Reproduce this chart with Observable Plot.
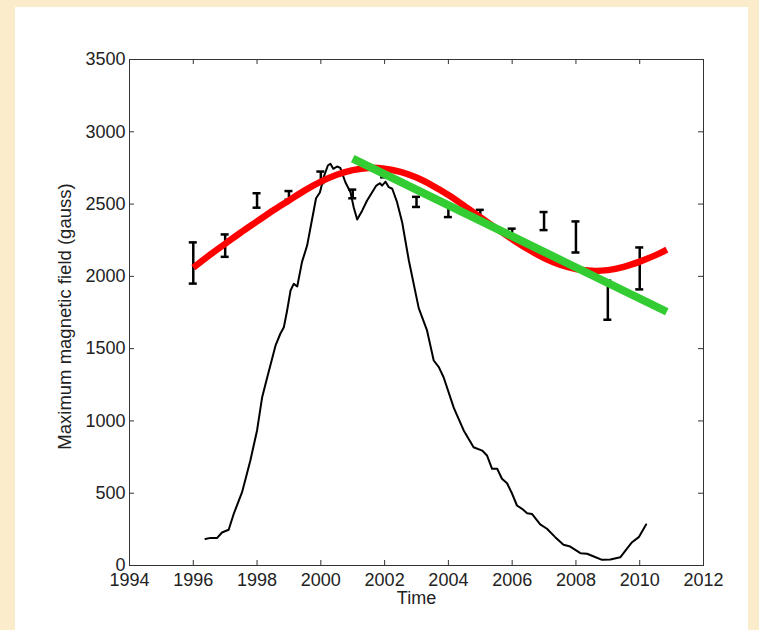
<!DOCTYPE html>
<html><head><meta charset="utf-8">
<script src="https://cdn.jsdelivr.net/npm/d3@7"></script>
<script src="https://cdn.jsdelivr.net/npm/@observablehq/plot@0.6"></script>
<style>
html,body{margin:0;padding:0;}
body{width:759px;height:630px;background:#fbeccb;position:relative;overflow:hidden;}
#panel{position:absolute;left:15px;top:7px;width:733px;height:623px;background:#fff;}
#chart{position:absolute;left:0;top:0;}
</style></head><body><div id="panel"></div><div id="chart"></div>
<script>
// ---- data ----
const xTicks = [1994, 1996, 1998, 2000, 2002, 2004, 2006, 2008, 2010, 2012];
const yTicks = [0, 500, 1000, 1500, 2000, 2500, 3000, 3500];
const xLabel = "Time";
const yLabel = "Maximum magnetic field (gauss)";

// error bars (yearly)
const barYears = [1996, 1997, 1998, 1999, 2000, 2001, 2002, 2003, 2004, 2005, 2006, 2007, 2008, 2009, 2010];
const barLow  = [1950, 2135, 2475, 2530, 2645, 2540, 2685, 2480, 2410, 2385, 2275, 2320, 2165, 1700, 1910];
const barHigh = [2235, 2290, 2575, 2590, 2725, 2600, 2720, 2550, 2490, 2460, 2330, 2445, 2380, 1970, 2200];

// red fitted curve
const redT = [1996, 1996.5, 1997, 1997.5, 1998, 1998.5, 1999, 1999.5, 2000, 2000.5, 2001, 2001.5, 2002, 2002.5, 2003, 2003.5, 2004, 2004.5, 2005, 2005.5, 2006, 2006.5, 2007, 2007.5, 2008, 2008.5, 2009, 2009.5, 2010, 2010.5, 2010.85];
const redV = [2060, 2145, 2225, 2305, 2380, 2455, 2525, 2595, 2655, 2703, 2735, 2750, 2745, 2722, 2683, 2628, 2563, 2488, 2410, 2332, 2257, 2187, 2127, 2081, 2051, 2038, 2043, 2066, 2102, 2147, 2185];

// green linear trend
const greenT = [2001, 2010.85];
const greenV = [2815, 1755];

// black curve (sunspot-like)
const blackT = [1996.38, 1996.54, 1996.75, 1996.9, 1997.11, 1997.27, 1997.53, 1997.79, 1998.0, 1998.16, 1998.32, 1998.58, 1998.73, 1998.84, 1998.94, 1999.05, 1999.15, 1999.26, 1999.41, 1999.57, 1999.73, 1999.85, 1999.97, 2000.09, 2000.22, 2000.3, 2000.39, 2000.51, 2000.61, 2000.77, 2000.93, 2001.03, 2001.14, 2001.3, 2001.45, 2001.61, 2001.74, 2001.85, 2001.92, 2002.03, 2002.13, 2002.24, 2002.39, 2002.55, 2002.65, 2002.76, 2003.07, 2003.33, 2003.54, 2003.7, 2003.85, 2004.17, 2004.48, 2004.79, 2005.06, 2005.21, 2005.37, 2005.53, 2005.68, 2005.84, 2006.0, 2006.15, 2006.31, 2006.47, 2006.62, 2006.88, 2007.09, 2007.35, 2007.61, 2007.82, 2008.14, 2008.35, 2008.56, 2008.82, 2009.08, 2009.39, 2009.6, 2009.76, 2009.97, 2010.2];
const blackV = [184, 191, 191, 228, 247, 358, 507, 726, 934, 1164, 1302, 1522, 1603, 1648, 1760, 1902, 1948, 1930, 2100, 2213, 2400, 2540, 2580, 2686, 2767, 2779, 2744, 2760, 2750, 2651, 2582, 2478, 2393, 2456, 2525, 2582, 2628, 2644, 2628, 2655, 2617, 2606, 2513, 2375, 2248, 2110, 1780, 1626, 1418, 1372, 1302, 1090, 934, 818, 795, 761, 669, 669, 600, 569, 496, 415, 392, 362, 357, 284, 254, 196, 143, 131, 85, 81, 62, 39, 42, 57, 116, 161, 196, 284];

// ---- build ----
const W = 759, H = 630, mL = 129, mR = 56, mT = 59, mB = 65;
const innerW = W - mL - mR, innerH = H - mT - mB;
const bars = barYears.map((t, i) => ({t, lo: barLow[i], hi: barHigh[i]}));
const red = redT.map((t, i) => ({t, v: redV[i]}));
const green = greenT.map((t, i) => ({t, v: greenV[i]}));
const black = blackT.map((t, i) => ({t, v: blackV[i]}));
const axisColor = "#333";

const chart = Plot.plot({
  width: W, height: H,
  marginLeft: mL, marginRight: mR, marginTop: mT, marginBottom: mB,
  style: {background: "transparent", fontFamily: "'Liberation Sans', Arial, Helvetica, sans-serif", fontSize: "18px", color: "#222", overflow: "visible"},
  x: {domain: [1994, 2012]},
  y: {domain: [0, 3500]},
  marks: [
    Plot.frame({stroke: axisColor, strokeWidth: 1}),
    Plot.ruleX(xTicks, {insetTop: innerH - 5, stroke: axisColor}),
    Plot.ruleX(xTicks, {insetBottom: innerH - 5, stroke: axisColor}),
    Plot.ruleY(yTicks, {insetRight: innerW - 5, stroke: axisColor}),
    Plot.ruleY(yTicks, {insetLeft: innerW - 5, stroke: axisColor}),
    Plot.axisX(xTicks, {tickSize: 0, tickPadding: 8, tickFormat: d3.format("d"), label: null}),
    Plot.axisY(yTicks, {tickSize: 0, tickPadding: 4, tickFormat: d3.format("d"), label: null}),
    Plot.line(black, {x: "t", y: "v", stroke: "#000", strokeWidth: 2}),
    Plot.ruleX(bars, {x: "t", y1: "lo", y2: "hi", stroke: "#000", strokeWidth: 2.5}),
    Plot.ruleY(bars, {y: "lo", x1: "t", x2: "t", insetLeft: -4, insetRight: -4, stroke: "#000", strokeWidth: 2.5}),
    Plot.ruleY(bars, {y: "hi", x1: "t", x2: "t", insetLeft: -4, insetRight: -4, stroke: "#000", strokeWidth: 2.5}),
    Plot.line(red, {x: "t", y: "v", stroke: "#ff0000", strokeWidth: 6.5, curve: "catmull-rom", strokeLinecap: "butt"}),
    Plot.line(green, {x: "t", y: "v", stroke: "#33cc33", strokeWidth: 8, strokeLinecap: "butt"}),
    Plot.text([xLabel], {text: d => d, frameAnchor: "bottom", dy: 33, lineAnchor: "middle", fontSize: 18}),
    Plot.text([yLabel], {text: d => d, frameAnchor: "left", textAnchor: "middle", rotate: -90, dx: -64, dy: 4, lineAnchor: "middle", fontSize: 18.5})
  ]
});
document.getElementById("chart").appendChild(chart);
</script></body></html>
